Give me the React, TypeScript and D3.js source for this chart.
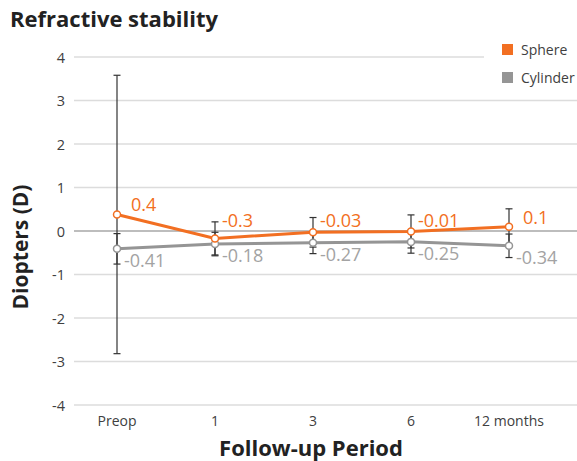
import * as d3 from 'd3';

const periods = ['Preop', '1', '3', '6', '12 months'];
const sphere = [0.38, -0.17, -0.03, -0.01, 0.1];
const sphereErr = [3.2, 0.38, 0.34, 0.38, 0.41];
const sphereLabels = ['0.4', '-0.3', '-0.03', '-0.01', '0.1'];
const cylinder = [-0.41, -0.3, -0.27, -0.25, -0.34];
const cylinderErr = [0.35, 0.27, 0.25, 0.26, 0.27];
const cylinderLabels = ['-0.41', '-0.18', '-0.27', '-0.25', '-0.34'];
const yTicks = [4, 3, 2, 1, 0, -1, -2, -3, -4];

const W = 577;
const H = 461;
const ORANGE = '#f26f22';
const GRAY = '#959595';
const FONT = '"Open Sans", sans-serif';

export default function App() {
  const x = d3.scalePoint<string>().domain(periods).range([68, 558]).padding(0.5);
  const y = d3.scaleLinear().domain([-4, 4]).range([405, 57]);

  const line = d3
    .line<number>()
    .x((_, i) => x(periods[i]) as number)
    .y((d) => y(d));

  const series = [
    { name: 'Sphere', values: sphere, err: sphereErr, labels: sphereLabels, color: ORANGE },
    { name: 'Cylinder', values: cylinder, err: cylinderErr, labels: cylinderLabels, color: GRAY },
  ];

  return (
    <svg width={W} height={H} style={{ position: 'absolute', left: 0, top: 0, fontFamily: FONT }}>
      <rect width={W} height={H} fill="#fff" />

      {/* title */}
      <text x={10} y={27} fontSize={22} fontWeight="bold" fill="#222">
        Refractive stability
      </text>

      {/* grid + y ticks */}
      {yTicks.map((t) => (
        <g key={t}>
          <line
            x1={74}
            x2={W}
            y1={y(t)}
            y2={y(t)}
            stroke={t === 0 ? '#bdbdbd' : '#dcdcdc'}
            strokeWidth={t === 0 ? 2 : 1.5}
          />
          <text x={65} y={y(t)} textAnchor="end" dominantBaseline="central" fontSize={14.5} fill="#404040">
            {t}
          </text>
        </g>
      ))}

      {/* x ticks */}
      {periods.map((p) => (
        <text key={p} x={x(p)} y={426} textAnchor="middle" fontSize={14} fill="#404040">
          {p}
        </text>
      ))}

      {/* axis titles */}
      <text x={311} y={456} textAnchor="middle" fontSize={22} fontWeight="bold" fill="#222">
        Follow-up Period
      </text>
      <text
        transform={`translate(20, ${247}) rotate(-90)`}
        textAnchor="middle"
        dominantBaseline="central"
        fontSize={21}
        fontWeight="bold"
        fill="#222"
      >
        Diopters (D)
      </text>

      {/* error bars */}
      {series.map((s) =>
        s.values.map((v, i) => {
          const cx = x(periods[i]) as number;
          const top = y(v + s.err[i]);
          const bot = y(v - s.err[i]);
          return (
            <g key={`${s.name}-e-${i}`} stroke="#333" strokeWidth={1.2}>
              <line x1={cx} x2={cx} y1={top} y2={bot} />
              <line x1={cx - 3.5} x2={cx + 3.5} y1={top} y2={top} />
              <line x1={cx - 3.5} x2={cx + 3.5} y1={bot} y2={bot} />
            </g>
          );
        })
      )}

      {/* lines + markers */}
      {series
        .slice()
        .reverse()
        .map((s) => (
          <g key={s.name}>
            <path d={line(s.values) ?? ''} fill="none" stroke={s.color} strokeWidth={3} />
            {s.values.map((v, i) => (
              <circle
                key={i}
                cx={x(periods[i])}
                cy={y(v)}
                r={3.5}
                fill="#fff"
                stroke={s.color}
                strokeWidth={1.5}
              />
            ))}
          </g>
        ))}

      {/* value labels */}
      {sphere.map((v, i) => {
        const lbl = sphereLabels[i];
        const px = (x(periods[i]) as number) + 7 + (lbl.startsWith('-') ? 0 : 7);
        const py = Math.min(y(v) - 3, y(0) - 4);
        return (
          <text key={`sl-${i}`} x={px} y={py} fontSize={18} fill={ORANGE}>
            {lbl}
          </text>
        );
      })}
      {cylinder.map((v, i) => (
        <text key={`cl-${i}`} x={(x(periods[i]) as number) + 7} y={y(v) + 18} fontSize={18} fill="#a3a3a3">
          {cylinderLabels[i]}
        </text>
      ))}

      {/* legend */}
      <rect x={484} y={36} width={W - 484} height={54} fill="#fff" />
      {series.map((s, i) => (
        <g key={`lg-${s.name}`} transform={`translate(502, ${44 + i * 28})`}>
          <rect width={11} height={11} fill={s.color} />
          <text x={19} y={10.5} fontSize={14} fill="#404040">
            {s.name}
          </text>
        </g>
      ))}
    </svg>
  );
}
